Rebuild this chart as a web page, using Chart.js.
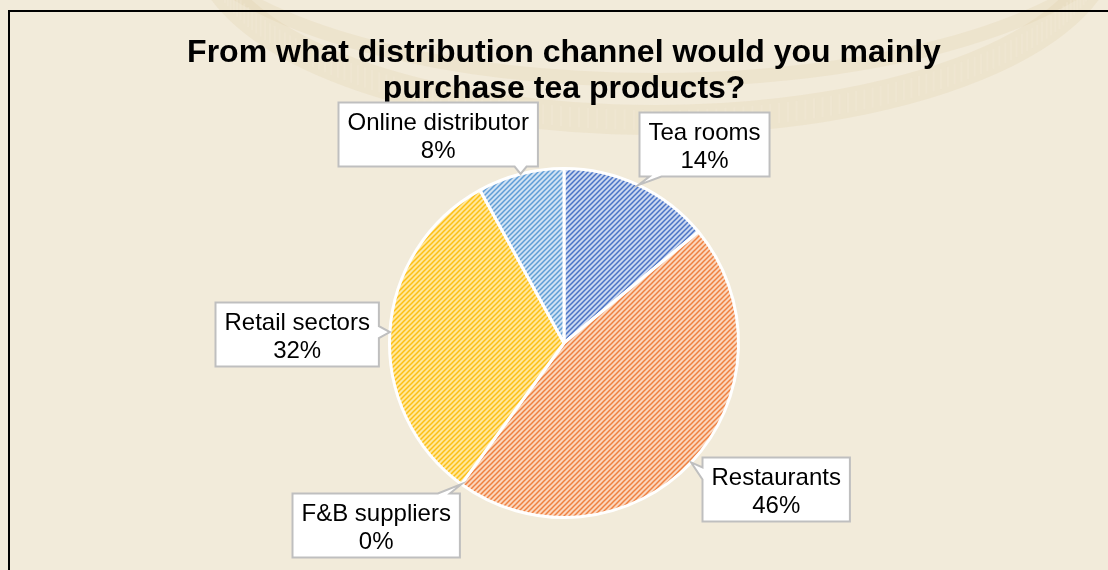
<!DOCTYPE html>
<html>
<head>
<meta charset="utf-8">
<script src="https://cdn.jsdelivr.net/npm/chart.js@4.4.1/dist/chart.umd.min.js"></script>
<style>
  html, body { margin: 0; padding: 0; background: #f2ebda; }
  #wrap { width: 1108px; height: 570px; position: relative; }
</style>
</head>
<body>
<div id="wrap"><canvas id="myChart" width="1108" height="570"></canvas></div>
<script>
// survey answers, percent of respondents
const channels = ['Tea rooms', 'Restaurants', 'F&B suppliers', 'Retail sectors', 'Online distributor'];
const shares = [14, 46, 0, 32, 8];
const titleLines = ['From what distribution channel would you mainly', 'purchase tea products?'];

// stripe colour / pale ground for each slice
const stripeColours = ['#4a74c6', '#ef8140', '#a5a5a5', '#fdbf14', '#5f9dd6'];
const groundColours = ['#cbd7ef', '#fbd6bd', '#e3e3e3', '#ffe79b', '#d0e2f3'];
// where each callout box sits, relative to the point on the rim
const calloutShift = [[66, -41], [84, 27], [-86, 41], [-93, 2], [-83, -40]];

function stripes(fg, bg) {
  const s = 5;
  const c = document.createElement('canvas');
  c.width = s; c.height = s;
  const g = c.getContext('2d');
  g.fillStyle = bg;
  g.fillRect(0, 0, s, s);
  g.strokeStyle = fg;
  g.lineWidth = 1.5;
  g.beginPath();
  g.moveTo(-1, s + 1); g.lineTo(s + 1, -1);
  g.moveTo(-s / 2 - 1, s / 2 + 1); g.lineTo(s / 2 + 1, -s / 2 - 1);
  g.moveTo(s / 2 - 1, s * 1.5 + 1); g.lineTo(s * 1.5 + 1, s / 2 - 1);
  g.stroke();
  return g.createPattern(c, 'repeat');
}

// parchment, faint bowl ornament and frame
const backdrop = {
  id: 'backdrop',
  beforeDraw(chart) {
    const ctx = chart.ctx;
    ctx.save();
    ctx.fillStyle = '#f2ebda';
    ctx.fillRect(0, 0, chart.width, chart.height);

    const ox = 655, oy = -60, rx = 450, ry = 180;
    ctx.strokeStyle = '#dcc69a';
    ctx.globalAlpha = 0.2;
    ctx.lineWidth = 30;
    ctx.beginPath();
    ctx.ellipse(ox, oy, rx, ry, 0, 0.03 * Math.PI, 0.97 * Math.PI);
    ctx.stroke();
    ctx.lineWidth = 14;
    ctx.beginPath();
    ctx.ellipse(ox, oy - 40, rx + 40, ry, 0, 0.05 * Math.PI, 0.95 * Math.PI);
    ctx.stroke();
    ctx.lineWidth = 10;
    ctx.beginPath();
    ctx.ellipse(ox - 40, oy - 70, 260, 110, 0, 0.1 * Math.PI, 0.9 * Math.PI);
    ctx.stroke();
    // rim ticks
    ctx.globalAlpha = 0.3;
    ctx.strokeStyle = '#f4ecdb';
    ctx.lineWidth = 2;
    for (let a = 0.06; a < 0.94; a += 0.0065) {
      const t = a * Math.PI;
      const x = ox + rx * Math.cos(t), y = oy + ry * Math.sin(t);
      ctx.beginPath();
      ctx.moveTo(x, y - 10);
      ctx.lineTo(x, y + 10);
      ctx.stroke();
    }
    ctx.globalAlpha = 1;

    ctx.strokeStyle = '#000';
    ctx.lineWidth = 2;
    ctx.strokeRect(9, 11, chart.width + 20, chart.height + 20);
    ctx.restore();
  }
};

function calloutPath(ctx, L, T, R, B, tx, ty) {
  const ex = tx < L ? L - tx : (tx > R ? tx - R : 0);
  const ey = ty < T ? T - ty : (ty > B ? ty - B : 0);
  let side;
  if (ex > ey) side = tx < L ? 'left' : 'right';
  else side = ty < T ? 'top' : 'bottom';
  const hw = 6, m = 16;
  const cl = (v, a, b) => Math.min(Math.max(v, a), b);
  ctx.beginPath();
  ctx.moveTo(L, T);
  if (side === 'top') {
    const c = cl(tx, L + m, R - m);
    ctx.lineTo(c - hw, T); ctx.lineTo(tx, ty); ctx.lineTo(c + hw, T);
  }
  ctx.lineTo(R, T);
  if (side === 'right') {
    const c = cl(ty, T + m, B - m);
    ctx.lineTo(R, c - hw); ctx.lineTo(tx, ty); ctx.lineTo(R, c + hw);
  }
  ctx.lineTo(R, B);
  if (side === 'bottom') {
    const c = cl(tx, L + m, R - m);
    ctx.lineTo(c + hw, B); ctx.lineTo(tx, ty); ctx.lineTo(c - hw, B);
  }
  ctx.lineTo(L, B);
  if (side === 'left') {
    const c = cl(ty, T + m, B - m);
    ctx.lineTo(L, c + hw); ctx.lineTo(tx, ty); ctx.lineTo(L, c - hw);
  }
  ctx.closePath();
}

// title and data callouts
const callouts = {
  id: 'callouts',
  afterDatasetsDraw(chart) {
    const ctx = chart.ctx;
    const arcs = chart.getDatasetMeta(0).data;
    const cx = (chart.chartArea.left + chart.chartArea.right) / 2;
    ctx.save();
    ctx.fillStyle = '#000';
    ctx.textAlign = 'center';
    ctx.textBaseline = 'alphabetic';
    ctx.font = 'bold 32px "Liberation Sans", Arial, sans-serif';
    ctx.fillText(titleLines[0], cx, 62);
    ctx.fillText(titleLines[1], cx, 98);

    ctx.font = '24px "Liberation Sans", Arial, sans-serif';
    arcs.forEach((arc, i) => {
      const p = arc.getProps(['x', 'y', 'startAngle', 'endAngle', 'outerRadius'], true);
      const mid = (p.startAngle + p.endAngle) / 2;
      const tx = p.x + Math.cos(mid) * p.outerRadius;
      const ty = p.y + Math.sin(mid) * p.outerRadius;
      const line1 = channels[i];
      const line2 = shares[i] + '%';
      const w = Math.max(ctx.measureText(line1).width, ctx.measureText(line2).width) + 18;
      const h = 64;
      const bx = tx + calloutShift[i][0], by = ty + calloutShift[i][1];
      const L = Math.round(bx - w / 2) + 0.5, T = Math.round(by - h / 2) + 0.5;
      calloutPath(ctx, L, T, L + w, T + h, tx, ty);
      ctx.fillStyle = '#fff';
      ctx.fill();
      ctx.strokeStyle = '#bfbfbf';
      ctx.lineWidth = 2;
      ctx.stroke();
      ctx.fillStyle = '#000';
      ctx.fillText(line1, L + w / 2, T + 27);
      ctx.fillText(line2, L + w / 2, T + 55);
    });
    ctx.restore();
  }
};

const ctx = document.getElementById('myChart');

new Chart(ctx, {
  type: 'pie',
  data: {
    labels: channels,
    datasets: [{
      data: shares,
      backgroundColor: stripeColours.map((c, i) => stripes(c, groundColours[i])),
      borderColor: '#ffffff',
      borderWidth: 3
    }]
  },
  options: {
    responsive: false,
    animation: false,
    devicePixelRatio: 1,
    layout: { padding: { top: 167, bottom: 51, left: 388, right: 368 } },
    plugins: {
      legend: { display: false },
      tooltip: { enabled: false },
      title: { display: false }
    }
  },
  plugins: [backdrop, callouts]
});
</script>
</body>
</html>
